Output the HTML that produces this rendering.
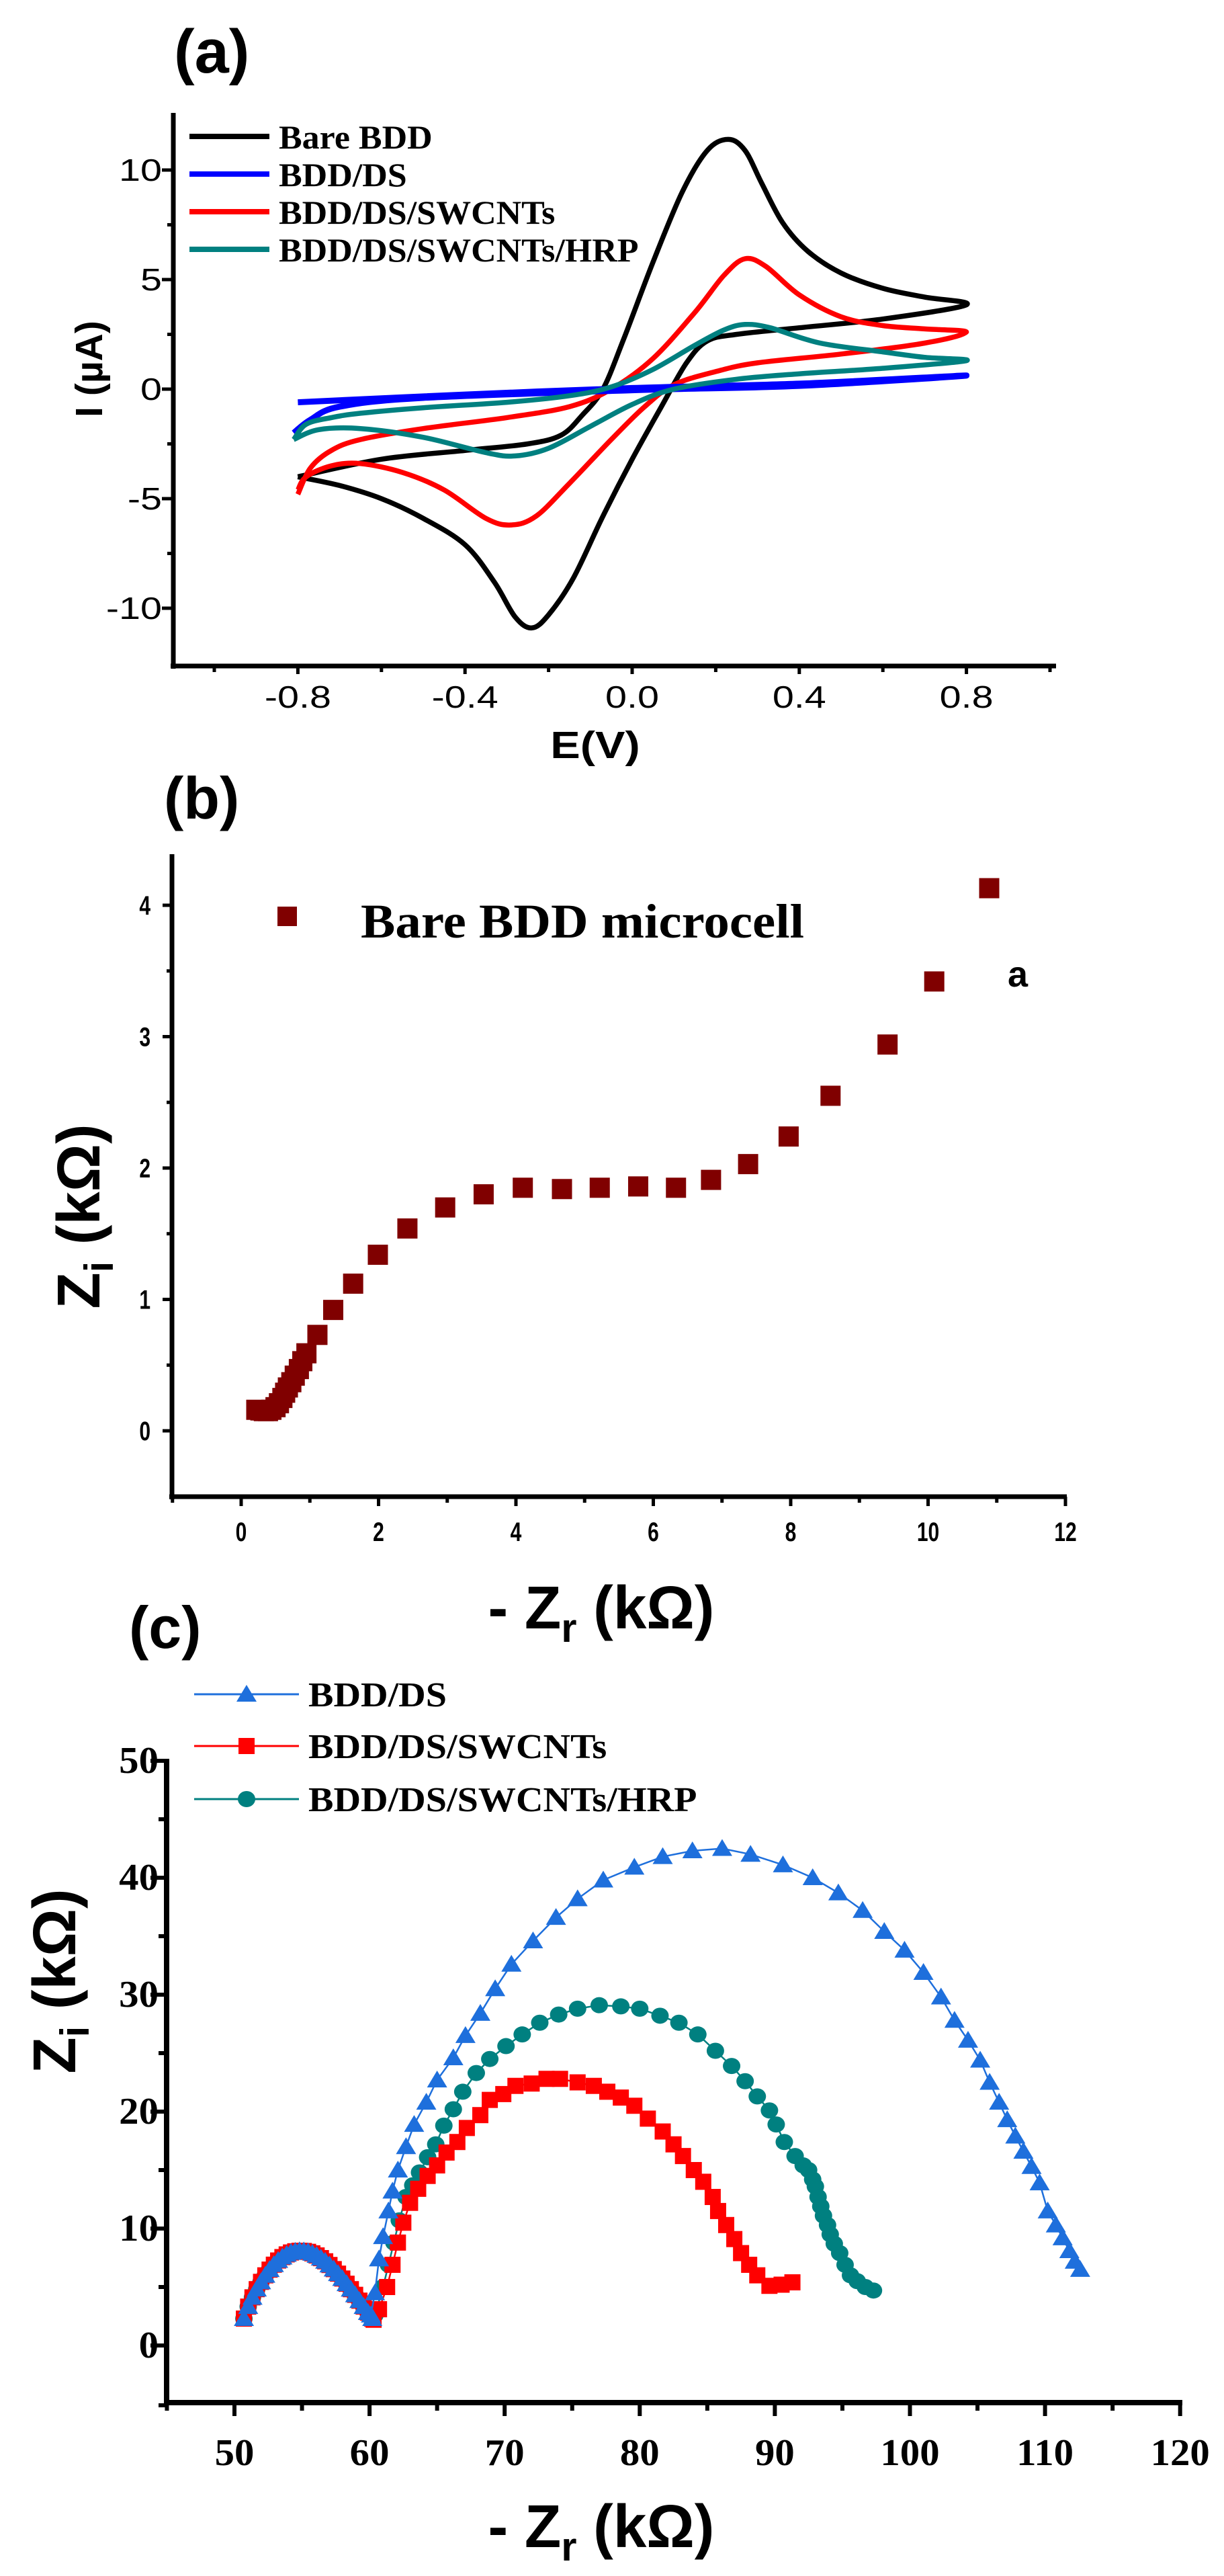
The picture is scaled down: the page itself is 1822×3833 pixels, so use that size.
<!DOCTYPE html>
<html><head><meta charset="utf-8"><style>
html,body{margin:0;padding:0;background:#fff;}
svg{display:block;}
</style></head><body>
<svg id="s" xmlns="http://www.w3.org/2000/svg" width="1822" height="3833" viewBox="0 0 1822 3833">
<rect width="1822" height="3833" fill="#fff"/>
<g id="g"></g>
</svg>
<script>
const NS="http://www.w3.org/2000/svg";
const G=document.getElementById('g');
function el(t,a,txt){const e=document.createElementNS(NS,t);for(const k in a)e.setAttribute(k,a[k]);if(txt!==undefined)e.textContent=txt;G.appendChild(e);return e;}
function line(x1,y1,x2,y2,w,c){el('line',{x1,y1,x2,y2,stroke:c||'#000','stroke-width':w});}
function txt(x,y,s,o){const a=Object.assign({x,y,'font-family':'"Liberation Sans",sans-serif','font-size':40,fill:'#000'},o||{});const sc=a.sx;delete a.sx;const e=el('text',a,s);if(sc){const L=e.getComputedTextLength();e.setAttribute('textLength',L*sc);e.setAttribute('lengthAdjust','spacingAndGlyphs');}return e;}
function smooth(pts){let d='M'+pts[0][0]+','+pts[0][1];for(let i=0;i<pts.length-1;i++){const p0=pts[Math.max(0,i-1)],p1=pts[i],p2=pts[i+1],p3=pts[Math.min(pts.length-1,i+2)];const c1=[p1[0]+(p2[0]-p0[0])/6,p1[1]+(p2[1]-p0[1])/6],c2=[p2[0]-(p3[0]-p1[0])/6,p2[1]-(p3[1]-p1[1])/6];d+='C'+c1[0].toFixed(1)+','+c1[1].toFixed(1)+' '+c2[0].toFixed(1)+','+c2[1].toFixed(1)+' '+p2[0].toFixed(1)+','+p2[1].toFixed(1);}return d;}

/* ---------- Panel a ---------- */
{
const X=e=>941+622*e, Y=i=>579-32.6*i;
txt(259,108,'(a)',{'font-weight':'bold','font-size':92});
const series=[
['#000',[[-0.8,-4.0],[-0.6,-3.2],[-0.4,-2.8],[-0.25,-2.5],[-0.17,-2.1],[-0.12,-1.2],[-0.07,0.0],[-0.02,2.3],[0.05,5.8],[0.12,9.0],[0.18,10.9],[0.23,11.4],[0.27,10.9],[0.31,9.4],[0.36,7.6],[0.42,6.3],[0.5,5.3],[0.6,4.6],[0.7,4.2],[0.8,3.85],
 [0.6,3.2],[0.4,2.8],[0.25,2.5],[0.18,2.2],[0.13,1.2],[0.07,-0.8],[0.0,-3.2],[-0.07,-5.8],[-0.14,-8.6],[-0.2,-10.3],[-0.24,-10.9],[-0.28,-10.4],[-0.33,-8.8],[-0.4,-7.1],[-0.5,-5.9],[-0.6,-5.0],[-0.7,-4.4],[-0.8,-4.0]]],
['#ff0000',[[-0.8,-4.8],[-0.77,-3.6],[-0.72,-2.8],[-0.65,-2.3],[-0.5,-1.8],[-0.3,-1.3],[-0.15,-0.8],[-0.05,0.0],[0.05,1.4],[0.15,3.5],[0.22,5.2],[0.27,5.95],[0.32,5.6],[0.4,4.3],[0.5,3.3],[0.6,2.9],[0.7,2.75],[0.8,2.6],
 [0.7,2.1],[0.5,1.6],[0.3,1.2],[0.2,0.8],[0.1,0.2],[0.03,-0.8],[-0.05,-2.3],[-0.15,-4.3],[-0.23,-5.8],[-0.29,-6.2],[-0.35,-5.9],[-0.45,-4.6],[-0.55,-3.8],[-0.65,-3.4],[-0.72,-3.5],[-0.78,-4.0],[-0.8,-4.6]]],
['#0000ff',[[-0.8,-0.6],[-0.4,-0.25],[0,0.05],[0.4,0.25],[0.8,0.62],[0.4,0.15],[0,-0.05],[-0.5,-0.4],[-0.7,-0.8],[-0.77,-1.4],[-0.81,-2.0]]],
['#008080',[[-0.81,-2.3],[-0.78,-1.6],[-0.72,-1.3],[-0.65,-1.1],[-0.5,-0.85],[-0.3,-0.6],[-0.15,-0.3],[-0.05,0.1],[0.05,0.9],[0.15,2.0],[0.22,2.7],[0.27,2.95],[0.33,2.8],[0.45,2.1],[0.6,1.7],[0.7,1.45],[0.8,1.3],
 [0.6,0.95],[0.4,0.7],[0.25,0.45],[0.1,0.0],[0.0,-0.7],[-0.1,-1.7],[-0.2,-2.7],[-0.28,-3.05],[-0.35,-2.9],[-0.5,-2.2],[-0.65,-1.8],[-0.75,-1.85],[-0.81,-2.3]]]
];
for(const [c,p] of series){el('path',{d:smooth(p.map(q=>[X(q[0]),Y(q[1])])),fill:'none',stroke:c,'stroke-width':c=='#0000ff'?9:7.5,'stroke-linejoin':'round'});}
// axes
line(258,168,258,995,7);line(254,991,1572,991,7);
for(const v of [-10,-5,0,5,10]){line(241,Y(v),258,Y(v),5);txt(241,Y(v)+16,String(v),{'text-anchor':'end','font-size':46,sx:1.25});}
for(const v of [-7.5,-2.5,2.5,7.5]){line(249,Y(v),258,Y(v),5);}
for(const v of [-0.8,-0.4,0,0.4,0.8]){line(X(v),991,X(v),1003,5);txt(X(v),1053,v.toFixed(1),{'text-anchor':'middle','font-size':46,sx:1.25});}
for(const v of [-1,-0.6,-0.2,0.2,0.6,1]){line(X(v),991,X(v),1000,5);}
txt(886,1128,'E(V)',{'text-anchor':'middle','font-size':57,'font-weight':'bold',sx:1.17});
txt(0,0,'I (\u00b5A)',{'text-anchor':'middle','font-size':57,'font-weight':'bold',transform:'translate(152,549) rotate(-90)'});
const lg=[['#000','Bare BDD'],['#0000ff','BDD/DS'],['#ff0000','BDD/DS/SWCNTs'],['#008080','BDD/DS/SWCNTs/HRP']];
lg.forEach((q,i)=>{const y=203+56*i;line(282,y,401,y,8,q[0]);txt(415,y+18,q[1],{'font-family':'"Liberation Serif",serif','font-weight':'bold','font-size':50,sx:1.04});});
}

/* ---------- Panel b ---------- */
{
const X=v=>359+102.25*v, Y=v=>2129-195.5*v;
txt(244,1218,'(b)',{'font-weight':'bold','font-size':88});
line(256,1271,256,2231,7);line(252,2227,1588,2227,7);
for(let v=0;v<=4;v++){line(242,Y(v),256,Y(v),5);txt(224,Y(v)+14,String(v),{'text-anchor':'end','font-size':40,'font-weight':'bold',sx:0.75});}
for(const v of [0.5,1.5,2.5,3.5]){line(248,Y(v),256,Y(v),5);}
for(let v=0;v<=12;v+=2){line(X(v),2227,X(v),2241,5);txt(X(v),2293,String(v),{'text-anchor':'middle','font-size':40,'font-weight':'bold',sx:0.75});}
for(let v=-1;v<=11;v+=2){line(X(v),2227,X(v),2236,5);}
const pts=[[10.89,4.13],[10.09,3.42],[9.41,2.94],[8.58,2.55],[7.97,2.24],[7.38,2.03],[6.84,1.91],[6.33,1.85],[5.78,1.86],[5.22,1.85],[4.67,1.84],[4.10,1.85],[3.53,1.80],[2.97,1.70],[2.42,1.54],[1.99,1.34],[1.63,1.12],[1.34,0.92],[1.11,0.73],[0.95,0.59],[0.89,0.53],[0.84,0.47],[0.78,0.42],[0.73,0.37],[0.68,0.33],[0.64,0.29],[0.6,0.25],[0.55,0.21],[0.5,0.18],[0.44,0.16],[0.39,0.15],[0.33,0.15],[0.28,0.155],[0.22,0.16]];
for(const [a,b] of pts){el('rect',{x:X(a)-15,y:Y(b)-15,width:30,height:30,fill:'#800000'});}
el('rect',{x:413,y:1349,width:29,height:29,fill:'#800000'});
txt(537,1395,'Bare BDD microcell',{'font-family':'"Liberation Serif",serif','font-weight':'bold','font-size':72,textLength:660,lengthAdjust:'spacingAndGlyphs'});
txt(1500,1468,'a',{'font-weight':'bold','font-size':54});
txt(895,2425,'- Z',{'text-anchor':'end','font-weight':'bold','font-size':92,sx:0.85,dx:-60});
}

/* ---------- Panel c ---------- */
{
const X=v=>349+20.11*(v-50), Y=v=>3490-17.4*v;
txt(192,2452,'(c)',{'font-weight':'bold','font-size':88});
line(248,2617,248,3579,8);line(244,3575,1760,3575,8);
for(let v=0;v<=50;v+=10){line(224,Y(v),248,Y(v),6);txt(236,Y(v)+18,String(v),{'text-anchor':'end','font-family':'"Liberation Serif",serif','font-weight':'bold','font-size':56,sx:1.05});}
for(let v=5;v<=45;v+=10){line(236,Y(v),248,Y(v),6);}
line(236,Y(-5)+2,248,Y(-5)+2,6);
for(let v=50;v<=120;v+=10){line(X(v),3575,X(v),3595,6);txt(X(v),3668,String(v),{'text-anchor':'middle','font-family':'"Liberation Serif",serif','font-weight':'bold','font-size':56,sx:1.05});}
for(let v=45;v<=115;v+=10){line(X(v),3575,X(v),3587,6);}
function smallArc(n){const a=[];for(let i=0;i<=n;i++){const t=i/n;a.push([50.7+9.5*t,2.3+5.8*Math.sin(Math.PI*Math.pow(t,0.845))]);}return a;}
const teal=smallArc(30).concat([[60.4,2.6],[61,5],[61.4,6.9],[61.8,8.8],[62.2,10.7],[62.7,12.7],[63.2,13.7],[63.7,14.8],[64.3,16.1],[64.9,17.2],[65.5,18.8],[66.2,20.2],[66.9,21.7],[67.9,23.3],[68.9,24.5],[70.1,25.6],[71.3,26.6],[72.6,27.6],[74,28.3],[75.4,28.8],[77,29.1],[78.6,29],[80,28.8],[81.5,28.2],[82.9,27.6],[84.3,26.6],[85.6,25.2],[86.8,23.9],[87.8,22.6],[88.7,21.3],[89.6,20.1],[90.1,18.9],[90.7,17.4],[91.5,16.2],[92.1,15.4],[92.5,15],[92.8,14.2],[93,13.6],[93.2,12.7],[93.4,11.9],[93.6,11.1],[93.9,10.3],[94.1,9.5],[94.4,8.7],[94.8,7.9],[95.2,6.9],[95.6,6],[96.1,5.5],[96.7,5.0],[97.3,4.7]]);
const red=smallArc(30).concat([[60.3,2.2],[60.7,3.1],[61.3,5],[61.7,6.9],[62.1,8.8],[62.5,10.5],[63,12.2],[63.6,13.4],[64.3,14.5],[65,15.4],[65.7,16.5],[66.5,17.4],[67.2,18.6],[68.2,19.7],[68.9,21],[69.9,21.5],[70.8,22.2],[72,22.4],[73.1,22.8],[74.1,22.8],[75.4,22.5],[76.6,22.2],[77.6,21.7],[78.6,21.2],[79.6,20.5],[80.6,19.4],[81.7,18.3],[82.5,17.2],[83.2,16.2],[84,15],[84.7,14],[85.4,12.7],[85.8,11.5],[86.4,10.3],[87,9.1],[87.5,7.9],[88.1,6.9],[88.7,6],[89.6,5.1],[90.5,5.2],[91.3,5.4]]);
const blue=smallArc(30).concat([[60.1,2.6],[60.4,4.5],[60.7,7.4],[61,9.3],[61.4,11.5],[61.7,13.2],[62.1,15],[62.7,17],[63.3,18.9],[64.2,20.8],[65,22.7],[66.2,24.6],[67.1,26.5],[68.2,28.4],[69.3,30.5],[70.5,32.6],[72.1,34.6],[73.8,36.6],[75.4,38.2],[77.3,39.8],[79.6,40.9],[81.7,41.8],[83.9,42.3],[86.1,42.5],[88.2,42.0],[90.6,41.1],[92.8,40.0],[94.7,38.7],[96.5,37.2],[98.1,35.4],[99.6,33.8],[101,31.9],[102.3,29.8],[103.3,27.8],[104.3,26.1],[105.2,24.4],[105.9,22.5],[106.6,20.8],[107.2,19.3],[107.8,17.9],[108.4,16.6],[109,15.3],[109.6,13.9],[110.2,11.5],[110.8,10.3],[111.3,9.2],[111.8,8.1],[112.2,7.2],[112.6,6.5]]);
function tri(x,y,c){el('polygon',{points:`${x},${y-14} ${x+15},${y+11} ${x-15},${y+11}`,fill:c});}
function sq(x,y,c){el('rect',{x:x-12,y:y-12,width:24,height:24,fill:c});}
function circ(x,y,c){el('ellipse',{cx:x,cy:y,rx:13,ry:12,fill:c});}
const S=[[teal,'#008080',circ],[red,'#ff0000',sq],[blue,'#1e6fdc',tri]];
for(const [p,c,m] of S){el('polyline',{points:p.map(q=>X(q[0]).toFixed(1)+','+Y(q[1]).toFixed(1)).join(' '),fill:'none',stroke:c,'stroke-width':2.5});for(const q of p)m(X(q[0]),Y(q[1]),c);}
const L=[[2521,'#1e6fdc',tri,'BDD/DS'],[2598,'#ff0000',sq,'BDD/DS/SWCNTs'],[2677,'#008080',circ,'BDD/DS/SWCNTs/HRP']];
for(const [y,c,m,s] of L){line(289,y,445,y,3,c);m(367,y,c);txt(459,y+18,s,{'font-family':'"Liberation Serif",serif','font-weight':'bold','font-size':52,sx:1.08});}
}

/* axis titles for b and c (Z with subscripts) */
function ztitle(cx,by,rot,sub){
 const t=document.createElementNS(NS,'text');
 t.setAttribute('font-family','"Liberation Sans",sans-serif');t.setAttribute('font-weight','bold');t.setAttribute('font-size','90');t.setAttribute('text-anchor','middle');
 if(rot){t.setAttribute('transform',`translate(${cx},${by}) rotate(-90)`);}else{t.setAttribute('x',cx);t.setAttribute('y',by);}
 const a=document.createElementNS(NS,'tspan');a.textContent=rot?'Z':'- Z';t.appendChild(a);
 const b=document.createElementNS(NS,'tspan');b.setAttribute('font-size','60');b.setAttribute('dy','20');b.textContent=sub;t.appendChild(b);
 const c=document.createElementNS(NS,'tspan');c.setAttribute('dy','-20');c.textContent=' (k\u03a9)';t.appendChild(c);
 G.appendChild(t);
 const L=t.getComputedTextLength();t.setAttribute('textLength',rot?275:337);t.setAttribute('lengthAdjust','spacingAndGlyphs');
}
// remove placeholder from panel b
document.querySelectorAll('text').forEach(t=>{if(t.textContent==='- Z')t.remove();});
ztitle(895,2423,false,'r');
ztitle(148,1810,true,'i');
ztitle(895,3790,false,'r');
ztitle(112,2948,true,'i');
</script>
</body></html>
